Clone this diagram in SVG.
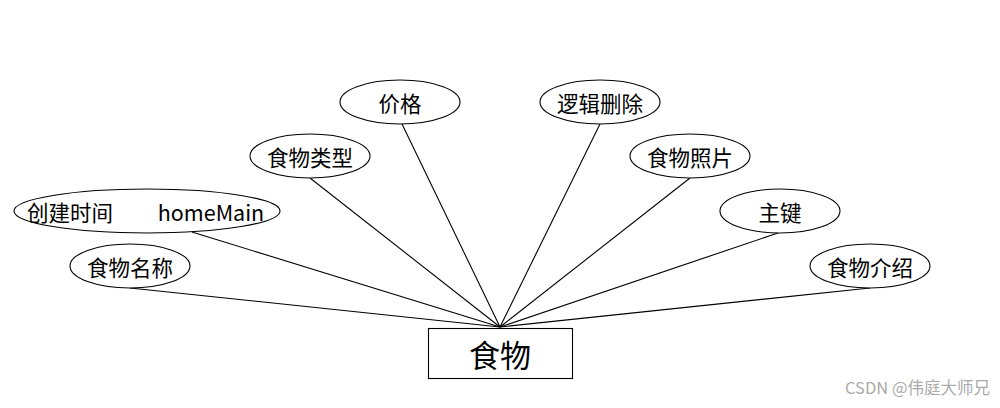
<svg xmlns="http://www.w3.org/2000/svg" width="1000" height="408" viewBox="0 0 1000 408">
<style>
.e{fill:#fff;stroke:#000;stroke-width:1.1}
.t{font-family:"Noto Sans CJK SC","Noto Sans",sans-serif;font-size:21.5px;fill:#000;text-anchor:middle;dominant-baseline:central}
.c line{stroke:#000;stroke-width:1.1}
</style>
<rect width="1000" height="408" fill="#fff"/>
<g class="c" id="connectors">
<line x1="402" y1="124" x2="500" y2="327"/>
<line x1="600" y1="124" x2="500" y2="327"/>
<line x1="310" y1="178" x2="500" y2="327"/>
<line x1="690" y1="178" x2="500" y2="327"/>
<line x1="192" y1="232" x2="500" y2="327"/>
<line x1="778" y1="233" x2="500" y2="327"/>
<line x1="130" y1="288" x2="500" y2="327"/>
<line x1="870" y1="288" x2="500" y2="327"/>
</g>
<g id="food">
<rect x="428.5" y="328.5" width="144" height="50" fill="#fff" stroke="#000" stroke-width="1.1"/>
<text class="t" x="500" y="353" style="font-size:31px">食物</text>
</g>
<g id="price"><ellipse class="e" cx="400" cy="102" rx="60" ry="22"/><text class="t" x="400" y="102">价格</text></g>
<g id="logicDelete"><ellipse class="e" cx="600" cy="102" rx="60" ry="22"/><text class="t" x="600" y="102">逻辑删除</text></g>
<g id="foodType"><ellipse class="e" cx="310" cy="156" rx="60" ry="22"/><text class="t" x="310" y="156">食物类型</text></g>
<g id="foodPhoto"><ellipse class="e" cx="690" cy="156" rx="60" ry="22"/><text class="t" x="690" y="156">食物照片</text></g>
<g id="createTime"><ellipse class="e" cx="147" cy="211" rx="133" ry="22"/><text class="t" x="70" y="211">创建时间</text><text class="t" x="211" y="211">homeMain</text></g>
<g id="primaryKey"><ellipse class="e" cx="780" cy="211" rx="60" ry="22"/><text class="t" x="780" y="211">主键</text></g>
<g id="foodName"><ellipse class="e" cx="130" cy="266" rx="60" ry="22"/><text class="t" x="130" y="266">食物名称</text></g>
<g id="foodIntro"><ellipse class="e" cx="870" cy="266" rx="60" ry="22"/><text class="t" x="870" y="266">食物介绍</text></g>
<text x="990" y="387" style="font-family:'Noto Sans CJK SC','Noto Sans',sans-serif;font-size:16.5px;fill:#aaa;text-anchor:end;dominant-baseline:central">CSDN @伟庭大师兄</text>
</svg>
